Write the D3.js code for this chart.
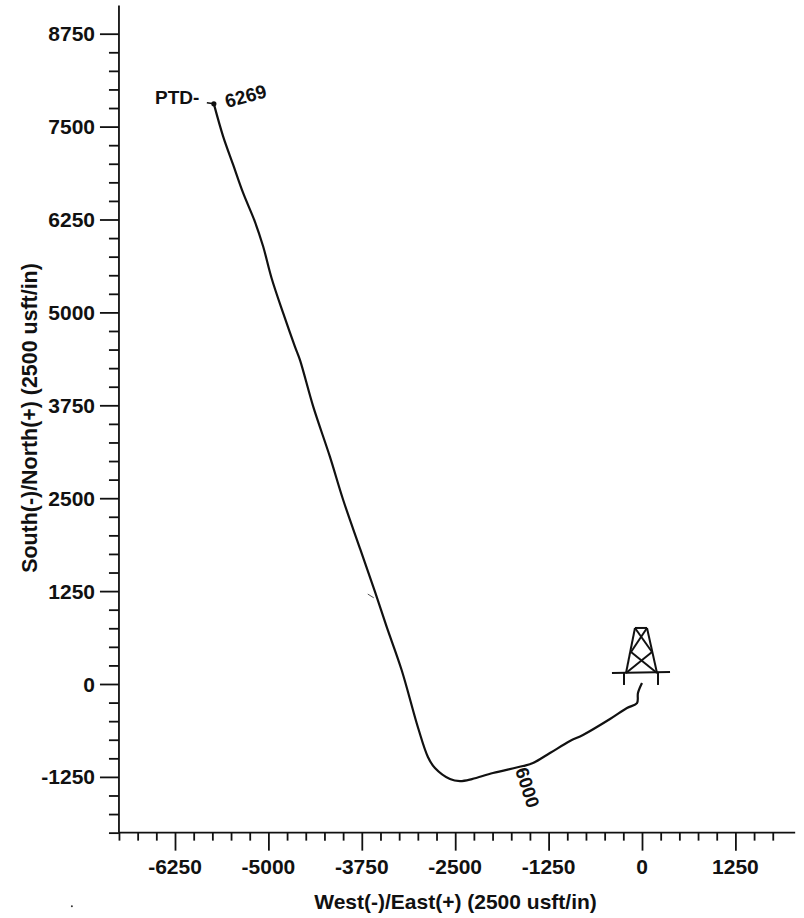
<!DOCTYPE html>
<html>
<head>
<meta charset="utf-8">
<script src="https://cdn.jsdelivr.net/npm/d3@7"></script>
<style>
body { margin: 0; background: white; }
text { font-family: "Liberation Sans", Arial, sans-serif; font-weight: bold; fill: #111; }
</style>
</head>
<body>
<script>
let width = 804
let height = 918

// well path, usft
let east = [-5730, -5605, -5471, -5337, -5181, -5070, -4957, -4802, -4645, -4578, -4400, -4177, -3999,
    -3775, -3574, -3418, -3217, -2995, -2865, -2771, -2570, -2436, -2276,
    -1995, -1593, -1459, -1232, -964, -790, -428, -201, -67, -54, 0]
let north = [7806, 7366, 6985, 6604, 6222, 5886, 5460, 4989, 4540, 4361, 3732, 3059, 2476,
    1826, 1242, 771, 188, -596, -982, -1131, -1279, -1306, -1279,
    -1198, -1104, -1063, -929, -767, -686, -471, -323, -256, -121, 13]

let xLabels = [-6250, -5000, -3750, -2500, -1250, 0, 1250]
let yLabels = [-1250, 0, 1250, 2500, 3750, 5000, 6250, 7500, 8750]
let xTicks = d3.range(-7000, 1751, 250)
let yTicks = d3.range(-2000, 8751, 250)

// rig symbol segments: east1, north1, east2, north2
let rig = [
    [-402, 148, 375, 160], [-241, 148, -241, -13], [214, 148, 214, -13],
    [-94, 754, 67, 754], [-94, 754, -214, 148], [67, 754, 201, 148],
    [-214, 148, 134, 431], [201, 148, -147, 431], [-147, 431, 67, 754], [134, 431, -94, 754]
]

let x = d3.scaleLinear().domain([0, 1250]).range([642, 735.4])
let y = d3.scaleLinear().domain([0, 1250]).range([684, 591.1])

let svg = d3.select("body").append("svg")
    .attr("width", width)
    .attr("height", height)

function styleAxis(g) {
    g.selectAll("line, path").attr("stroke", "#111").attr("stroke-width", 1.8)
    g.selectAll("text").remove()
}

// bottom axis
let bottom = svg.append("g")
    .attr("transform", `translate(0,${y(-2000)})`)
    .call(d3.axisBottom(x).tickValues(xTicks).tickSizeOuter(0).tickSize(8))
bottom.select(".domain").attr("d", `M${x(-7000)},0H${x(2050)}`)
bottom.selectAll(".tick line").filter(d => xLabels.includes(d)).attr("y2", 18)
styleAxis(bottom)

// left axis
let left = svg.append("g")
    .attr("transform", `translate(${x(-7000)},0)`)
    .call(d3.axisLeft(y).tickValues(yTicks).tickSizeOuter(0).tickSize(10))
left.select(".domain").attr("d", `M0,${y(-2000)}V${y(9130)}`)
left.selectAll(".tick line").filter(d => yLabels.includes(d)).attr("x2", -19)
styleAxis(left)

svg.selectAll(".xlab").data(xLabels).enter().append("text")
    .attr("class", "xlab")
    .attr("x", d => x(d))
    .attr("y", 874)
    .attr("text-anchor", "middle")
    .attr("font-size", 21)
    .text(d => d)

svg.selectAll(".ylab").data(yLabels).enter().append("text")
    .attr("class", "ylab")
    .attr("x", 95)
    .attr("y", d => y(d) + 7.5)
    .attr("text-anchor", "end")
    .attr("font-size", 21)
    .text(d => d)

svg.append("text")
    .attr("x", 455.5)
    .attr("y", 909)
    .attr("text-anchor", "middle")
    .attr("font-size", 21)
    .text("West(-)/East(+) (2500 usft/in)")

svg.append("text")
    .attr("transform", "translate(37,418) rotate(-90)")
    .attr("text-anchor", "middle")
    .attr("font-size", 21.4)
    .text("South(-)/North(+) (2500 usft/in)")

// well path
let line = d3.line()
    .x(i => x(east[i]))
    .y(i => y(north[i]))
    .curve(d3.curveCatmullRom.alpha(0.5))

svg.append("path")
    .attr("d", line(d3.range(east.length)))
    .attr("fill", "none")
    .attr("stroke", "#111")
    .attr("stroke-width", 2.2)

svg.append("circle")
    .attr("cx", x(east[0]))
    .attr("cy", y(north[0]))
    .attr("r", 2.6)
    .attr("fill", "#111")

svg.append("line")
    .attr("x1", x(east[0]) - 7).attr("x2", x(east[0]))
    .attr("y1", y(north[0]) - 1).attr("y2", y(north[0]))
    .attr("stroke", "#111").attr("stroke-width", 1.5)

// rig
svg.selectAll(".rig").data(rig).enter().append("line")
    .attr("class", "rig")
    .attr("x1", d => x(d[0]))
    .attr("y1", d => y(d[1]))
    .attr("x2", d => x(d[2]))
    .attr("y2", d => y(d[3]))
    .attr("stroke", "#111")
    .attr("stroke-width", 2)

// labels on the path
svg.append("text")
    .attr("x", 155)
    .attr("y", 104)
    .attr("font-size", 19)
    .text("PTD-")

svg.append("text")
    .attr("transform", "translate(227,108) rotate(-15)")
    .attr("font-size", 19)
    .text("6269")

svg.append("text")
    .attr("transform", "translate(515,770) rotate(72)")
    .attr("font-size", 18.5)
    .text("6000")

// scan specks
svg.append("line")
    .attr("x1", x(-3670)).attr("x2", x(-3590))
    .attr("y1", y(1210)).attr("y2", y(1160))
    .attr("stroke", "#555").attr("stroke-width", 1)

svg.append("circle")
    .attr("cx", x(-7630))
    .attr("cy", y(-2990))
    .attr("r", 1)
    .attr("fill", "#333")
</script>
</body>
</html>
